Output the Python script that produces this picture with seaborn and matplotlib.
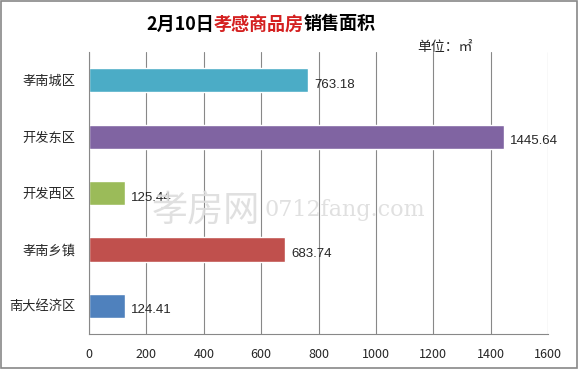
import matplotlib.pyplot as plt
import matplotlib.patches as mpatches
import pandas as pd
import seaborn as sns

# chart data
districts = ["孝南城区", "开发东区", "开发西区", "孝南乡镇", "南大经济区"]
areas = [763.18, 1445.64, 125.44, 683.74, 124.41]
bar_colors = ["#4BACC6", "#8064A2", "#9BBB59", "#C0504D", "#4F81BD"]
x_ticks = [0, 200, 400, 600, 800, 1000, 1200, 1400, 1600]

df = pd.DataFrame({"district": districts, "area": areas})

sns.set_style("white")
plt.rcParams['font.family'] = ['Noto Sans CJK SC', 'DejaVu Sans']

fig = plt.figure(figsize=(5.79, 3.69), dpi=100)
ax = fig.add_axes([0.1537, 0.0949, 0.7928, 0.764])

sns.barplot(data=df, y="district", x="area", hue="district", palette=bar_colors,
            orient="h", width=0.43, legend=False, ax=ax, saturation=1)

# value labels
for i, v in enumerate(areas):
    ax.text(v + 22, i + 0.08, f"{v:.2f}", va="center", ha="left", fontsize=9.5,
            family=["Liberation Sans", "DejaVu Sans"])

ax.set_xlim(0, 1600)
ax.set_ylim(4.5, -0.5)
ax.set_xticks(x_ticks)
ax.set_xticklabels([str(t) for t in x_ticks], fontsize=9)
ax.set_xlabel("")
ax.set_ylabel("")
ax.tick_params(axis="y", length=0, labelsize=9.5, pad=10)
ax.set_yticks([-0.5, 0.5, 1.5, 2.5, 3.5, 4.5], minor=True)
ax.tick_params(axis="y", which="minor", length=4, color="#888888", direction="out")
ax.tick_params(axis="x", length=5, color="#888888", direction="out", pad=5)
ax.grid(axis="x", color="#888888", linewidth=0.8)
ax.set_axisbelow(True)
for s in ["top", "right"]:
    ax.spines[s].set_visible(False)
for s in ["left", "bottom"]:
    ax.spines[s].set_color("#888888")
    ax.spines[s].set_linewidth(0.8)

# watermark
fig.text(0.355, 0.43, "孝房网", fontsize=26, color="#dddddd", alpha=0.9, ha="center", va="center")
fig.text(0.595, 0.43, "0712fang.com", fontsize=16, color="#dddddd", alpha=0.9, ha="center", va="center",
         family=["DejaVu Serif"])

# title in three colours
fig.canvas.draw()
renderer = fig.canvas.get_renderer()
parts = [("2月10日", "black"), ("孝感商品房", "#D42020"), ("销售面积", "black")]
texts = []
for s, c in parts:
    t = fig.text(0, 0.935, s, fontsize=13, fontweight="bold", color=c, va="center", ha="left")
    texts.append(t)
widths = [t.get_window_extent(renderer).width for t in texts]
total = sum(widths)
x = 261 - total / 2
for t, w in zip(texts, widths):
    t.set_x(x / fig.bbox.width)
    x += w

fig.text(473 / 579, 1 - 47 / 369, "单位：㎡", fontsize=10, ha="right", va="center")

# outer border
fig.patches.append(mpatches.Rectangle((0.002, 0.003), 0.995, 0.993, transform=fig.transFigure,
                                      fill=False, edgecolor="#888888", linewidth=1.2))

fig.savefig("out.png", dpi=100)
